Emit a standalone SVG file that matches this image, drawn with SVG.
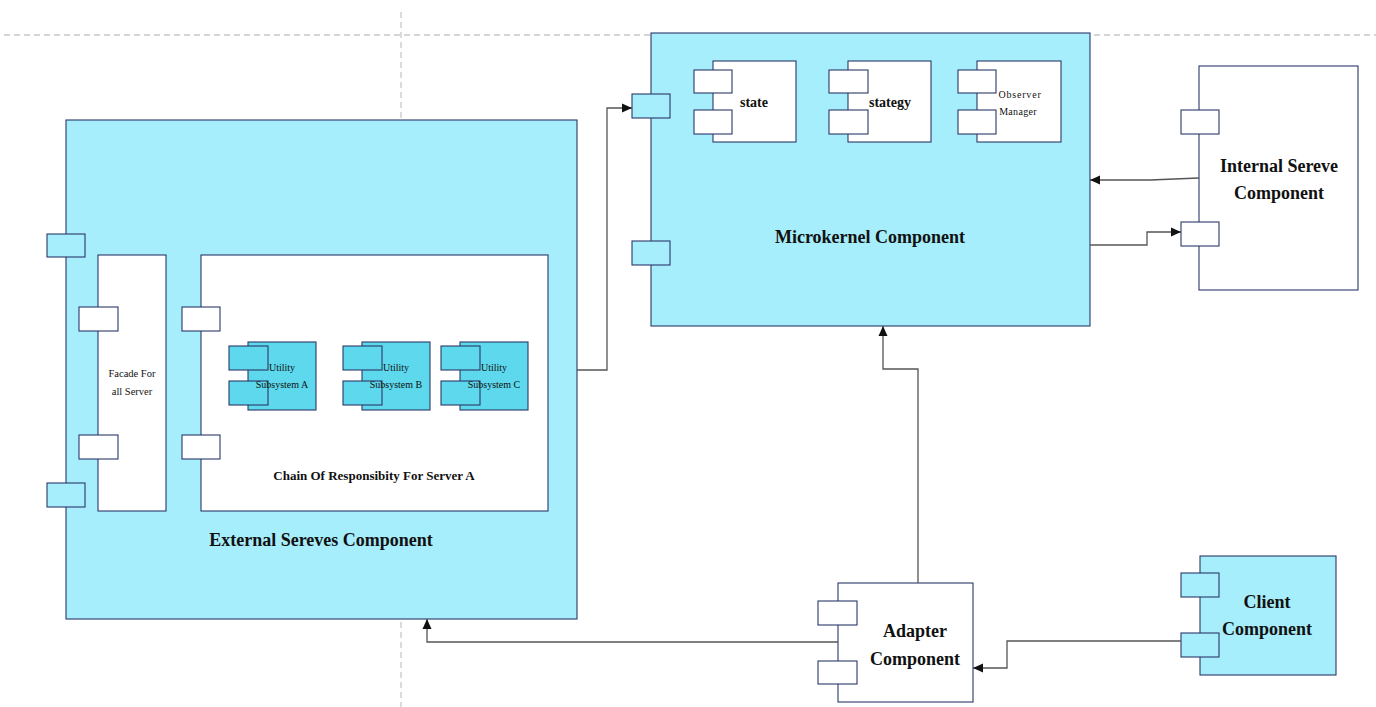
<svg xmlns="http://www.w3.org/2000/svg" width="1376" height="707" viewBox="0 0 1376 707">
<style>
.bg{fill:#ffffff}
.guide{stroke:#c8c8c8;stroke-width:1.3;stroke-dasharray:6 4;fill:none}
.comp{fill:#a6eefc;stroke:#2b3868;stroke-width:1.1}
.box{fill:#ffffff;stroke:#2b3868;stroke-width:1.1}
.util{fill:#5dd8ec;stroke:#2b3868;stroke-width:1.1}
.portc{fill:#a6eefc;stroke:#2b3868;stroke-width:1.1}
.portw{fill:#ffffff;stroke:#2b3868;stroke-width:1.1}
.portu{fill:#5dd8ec;stroke:#2b3868;stroke-width:1.1}
.conn{fill:none;stroke:#555555;stroke-width:1.3}
.t{font-family:"Liberation Serif","Times New Roman",serif;fill:#111111;text-anchor:middle}
.big{font-size:18px;font-weight:bold}
.mid{font-size:14px;font-weight:bold}
.ch{font-size:13px;font-weight:bold}
.sm{font-size:10px}
</style>
<defs>
<marker id="arr" markerUnits="userSpaceOnUse" markerWidth="10" markerHeight="10" viewBox="0 0 10 10" refX="10" refY="5" orient="auto">
<path d="M0,0.5 L10,5 L0,9.5 Z" fill="#111111"/>
</marker>
</defs>
<rect class="bg" x="0" y="0" width="1376" height="707"/>
<g id="guides">
<line class="guide" x1="4" y1="35" x2="1376" y2="35"/>
<line class="guide" x1="401" y1="12" x2="401" y2="707"/>
</g>
<g id="external">
<rect class="comp" x="66" y="120" width="511" height="499"/>
<rect class="portc" x="47" y="234" width="38" height="23"/>
<rect class="portc" x="47" y="483" width="38" height="24"/>
<text class="t big" x="321" y="546">External Sereves Component</text>
</g>
<g id="facade">
<rect class="box" x="98" y="255" width="68" height="256"/>
<rect class="portw" x="79" y="307" width="39" height="24"/>
<rect class="portw" x="79" y="435" width="39" height="24"/>
<text class="t" style="font-size:10.5px" x="132" y="377">Facade For</text>
<text class="t" style="font-size:10.5px" x="132" y="395">all Server</text>
</g>
<g id="chain">
<rect class="box" x="201" y="255" width="347" height="256"/>
<rect class="portw" x="182" y="307" width="38" height="24"/>
<rect class="portw" x="182" y="435" width="38" height="24"/>
<text class="t ch" x="374" y="480">Chain Of Responsibity For Server A</text>
</g>
<g id="utilA">
<rect class="util" x="248" y="342" width="68" height="68"/>
<rect class="portu" x="229" y="346" width="39" height="24"/>
<rect class="portu" x="229" y="381" width="39" height="24"/>
<text class="t sm" x="282" y="371">Utility</text>
<text class="t sm" x="282" y="388">Subsystem A</text>
</g>
<g id="utilB">
<rect class="util" x="362" y="342" width="68" height="68"/>
<rect class="portu" x="343" y="346" width="39" height="24"/>
<rect class="portu" x="343" y="381" width="39" height="24"/>
<text class="t sm" x="396" y="371">Utility</text>
<text class="t sm" x="396" y="388">Subsystem B</text>
</g>
<g id="utilC">
<rect class="util" x="460" y="342" width="68" height="68"/>
<rect class="portu" x="441" y="346" width="39" height="24"/>
<rect class="portu" x="441" y="381" width="39" height="24"/>
<text class="t sm" x="494" y="371">Utility</text>
<text class="t sm" x="494" y="388">Subsystem C</text>
</g>
<g id="microkernel">
<rect class="comp" x="651" y="33" width="439" height="293"/>
<rect class="portc" x="632" y="94" width="38" height="24"/>
<rect class="portc" x="632" y="241" width="38" height="24"/>
<text class="t big" x="870" y="243">Microkernel Component</text>
</g>
<g id="state">
<rect class="box" x="713" y="61" width="83" height="81"/>
<rect class="portw" x="694" y="70" width="38" height="23"/>
<rect class="portw" x="694" y="110" width="38" height="24"/>
<text class="t mid" x="754" y="107">state</text>
</g>
<g id="stategy">
<rect class="box" x="848" y="61" width="83" height="81"/>
<rect class="portw" x="829" y="70" width="39" height="23"/>
<rect class="portw" x="829" y="110" width="39" height="24"/>
<text class="t mid" x="890" y="107">stategy</text>
</g>
<g id="observer">
<rect class="box" x="977" y="61" width="84" height="81"/>
<rect class="portw" x="958" y="70" width="38" height="23"/>
<rect class="portw" x="958" y="110" width="38" height="24"/>
<text class="t sm" style="letter-spacing:0.8px" x="1020" y="98">Observer</text>
<text class="t sm" style="letter-spacing:0.3px" x="1018" y="115">Manager</text>
</g>
<g id="internal">
<rect class="box" x="1199" y="66" width="159" height="224"/>
<rect class="portw" x="1181" y="110" width="38" height="24"/>
<rect class="portw" x="1181" y="222" width="38" height="24"/>
<text class="t big" x="1279" y="172">Internal Sereve</text>
<text class="t big" x="1279" y="199">Component</text>
</g>
<g id="adapter">
<rect class="box" x="838" y="583" width="135" height="119"/>
<rect class="portw" x="818" y="601" width="39" height="24"/>
<rect class="portw" x="818" y="661" width="39" height="23"/>
<text class="t big" x="915" y="637">Adapter</text>
<text class="t big" x="915" y="665">Component</text>
</g>
<g id="client">
<rect class="comp" x="1200" y="556" width="136" height="119"/>
<rect class="portc" x="1181" y="573" width="38" height="24"/>
<rect class="portc" x="1181" y="633" width="38" height="24"/>
<text class="t big" x="1267" y="608">Client</text>
<text class="t big" x="1267" y="635">Component</text>
</g>
<g id="connectors">
<path class="conn" d="M577,370 L607,370 L607,108 L632,108" marker-end="url(#arr)"/>
<path class="conn" d="M1199,178 L1150,180 L1090,180" marker-end="url(#arr)"/>
<path class="conn" d="M1090,245 L1147,245 L1147,232 L1181,232" marker-end="url(#arr)"/>
<path class="conn" d="M918,583 L918,369 L883,369 L883,326" marker-end="url(#arr)"/>
<path class="conn" d="M838,642 L427,642 L427,619" marker-end="url(#arr)"/>
<path class="conn" d="M1181,641 L1007,641 L1007,668 L973,668" marker-end="url(#arr)"/>
</g>
</svg>
